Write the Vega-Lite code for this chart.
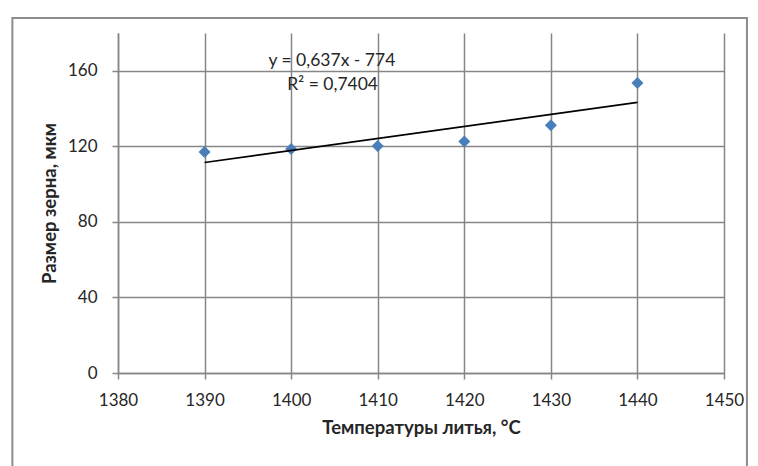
{
  "$schema": "https://vega.github.io/schema/vega-lite/v6.json",
  "width": 606,
  "height": 340,
  "autosize": {"type": "none"},
  "padding": {"left": 118, "top": 33, "right": 34, "bottom": 93},
  "background": "white",
  "config": {
    "font": "Lato",
    "view": {"stroke": null},
    "axis": {
      "grid": true,
      "gridColor": "#868686",
      "gridWidth": 1.5,
      "gridOpacity": 1,
      "domainColor": "#868686",
      "domainWidth": 1.5,
      "ticks": true,
      "tickColor": "#868686",
      "tickWidth": 1.5,
      "tickSize": 6,
      "labelOverlap": false,
      "labelFont": "Lato",
      "labelFontSize": 17,
      "labelColor": "#262626",
      "titleFont": "Lato",
      "titleFontSize": 18.5,
      "titleFontWeight": "bold",
      "titleColor": "#262626"
    }
  },
  "datasets": {
    "points": [
      {"t": 1390, "size": 117},
      {"t": 1400, "size": 118.6},
      {"t": 1410, "size": 120.2},
      {"t": 1420, "size": 122.5},
      {"t": 1430, "size": 131.1},
      {"t": 1440, "size": 153.5}
    ],
    "trend": [
      {"t": 1390, "size": 111.43},
      {"t": 1440, "size": 143.28}
    ],
    "labels": [
      {"t": 1404.7, "size": 165.2, "text": "y = 0,637x - 774"},
      {"t": 1404.8, "size": 152.3, "text": "R² = 0,7404"}
    ]
  },
  "layer": [
    {
      "data": {"name": "points"},
      "mark": {"type": "point", "shape": "diamond", "filled": true, "size": 144, "color": "#4a7ebb", "opacity": 1},
      "encoding": {
        "x": {
          "field": "t", "type": "quantitative",
          "scale": {"domain": [1380, 1450], "nice": false, "zero": false},
          "axis": {"values": [1380,1390,1400,1410,1420,1430,1440,1450], "format": "d", "title": "Температуры литья, °С", "labelPadding": 13, "titlePadding": 10, "labelFlush": false, "grid": true, "labelOverlap": false}
        },
        "y": {
          "field": "size", "type": "quantitative",
          "scale": {"domain": [0, 180], "nice": false},
          "axis": {"values": [0,20,40,60,80,100,120,140,160,180], "title": "Размер зерна, мкм", "labelPadding": 15, "titlePadding": 8, "grid": true, "labelOverlap": false}
        }
      }
    },
    {
      "data": {"name": "trend"},
      "mark": {"type": "line", "color": "#000000", "strokeWidth": 1.6},
      "encoding": {
        "x": {"field": "t", "type": "quantitative"},
        "y": {"field": "size", "type": "quantitative"}
      }
    },
    {
      "data": {"name": "labels"},
      "mark": {"type": "text", "font": "Lato", "fontSize": 17.5, "color": "#262626", "align": "center", "baseline": "middle"},
      "encoding": {
        "x": {"field": "t", "type": "quantitative"},
        "y": {"field": "size", "type": "quantitative"},
        "text": {"field": "text"}
      }
    },
    {
      "data": {"values": [{"a": 1}]},
      "mark": {"type": "rect", "fill": "white", "fillOpacity": 0, "stroke": "#8c8c8c", "strokeWidth": 2, "clip": false},
      "encoding": {
        "x": {"datum": 1367.8, "type": "quantitative", "scale": {"domain": [1380, 1450], "nice": false, "zero": false},
          "axis": {"values": [1380,1390,1400,1410,1420,1430,1440,1450], "format": "d", "title": "Температуры литья, °С", "labelPadding": 13, "titlePadding": 10, "labelFlush": false, "grid": true, "labelOverlap": false}},
        "x2": {"datum": 1452.65},
        "y": {"datum": 187.9, "type": "quantitative", "scale": {"domain": [0, 180], "nice": false},
          "axis": {"values": [0,20,40,60,80,100,120,140,160,180], "title": "Размер зерна, мкм", "labelPadding": 15, "titlePadding": 8, "grid": true, "labelOverlap": false}},
        "y2": {"datum": -55}
      }
    }
  ]
}
